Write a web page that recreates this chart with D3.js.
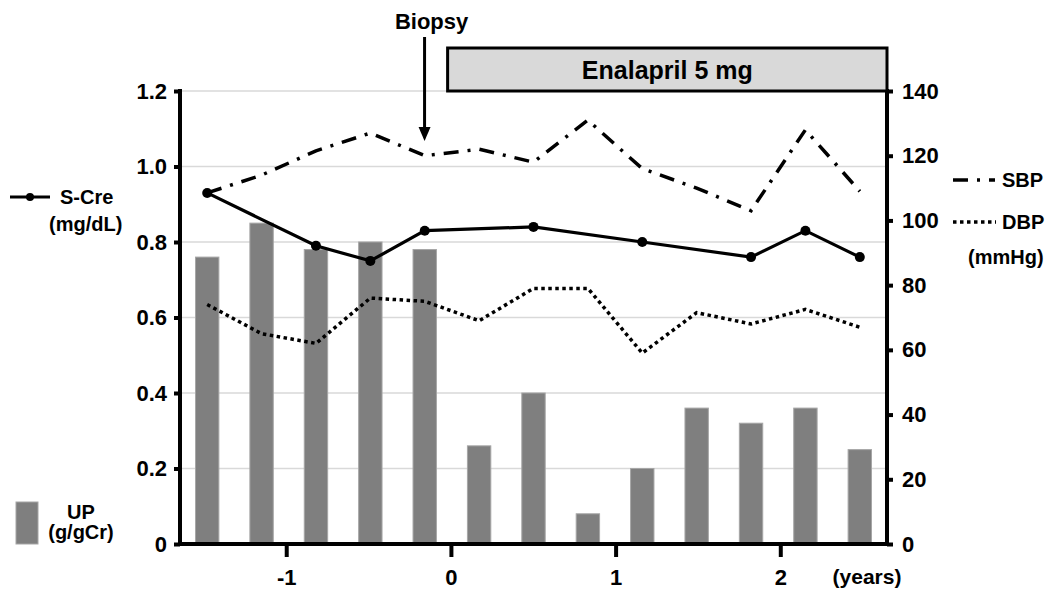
<!DOCTYPE html>
<html>
<head>
<meta charset="utf-8">
<script src="https://cdn.jsdelivr.net/npm/d3@7"></script>
<style>
  body { margin: 0; background: #fff; }
  svg text { font-family: Arial, "Liberation Sans", sans-serif; font-weight: bold; fill: #000; }
</style>
</head>
<body>
<div id="chart"></div>
<script>
// visits, roughly every 4 months
const visits = d3.range(13);
const upValues = [0.76, 0.85, 0.78, 0.80, 0.78, 0.26, 0.40, 0.08, 0.20, 0.36, 0.32, 0.36, 0.25];
const sCre = [0.93, null, 0.79, 0.75, 0.83, null, 0.84, null, 0.80, null, 0.76, 0.83, 0.76];
const sbp = [108.5, 114, 121.5, 127, 120, 122, 118, 131, 116, 110, 103, 128, 109];
const dbp = [74, 65, 62, 76, 75, 69, 79, 79, 59, 71.5, 68, 72.5, 67];
const leftTicks = [0, 0.2, 0.4, 0.6, 0.8, 1.0, 1.2];
const rightTicks = [0, 20, 40, 60, 80, 100, 120, 140];
const yearTicks = [-1, 0, 1, 2];
const yearDomain = [-1.645, 2.648];
const enalaprilStart = -0.02; // years

const W = 1051, H = 591;
const m = {left: 180, right: 164, top: 91, bottom: 47};
const iw = W - m.left - m.right, ih = H - m.top - m.bottom;

const svg = d3.select("#chart").append("svg")
    .attr("width", W).attr("height", H);

const x = d3.scaleBand().domain(visits).range([m.left, m.left + iw]).padding(0);
const xYear = d3.scaleLinear().domain(yearDomain).range([m.left, m.left + iw]);
const yL = d3.scaleLinear().domain([0, 1.2]).range([m.top + ih, m.top]);
const yR = d3.scaleLinear().domain([0, 140]).range([m.top + ih, m.top]);
const cx = i => x(i) + x.bandwidth() / 2;

// gridlines
svg.append("g").selectAll("line")
    .data(leftTicks.slice(1))
    .join("line")
    .attr("x1", m.left).attr("x2", m.left + iw)
    .attr("y1", d => yL(d)).attr("y2", d => yL(d))
    .attr("stroke", "#d9d9d9").attr("stroke-width", 1.5);

// bars
const bw = x.bandwidth() * 0.43;
svg.append("g").selectAll("rect")
    .data(visits)
    .join("rect")
    .attr("x", i => cx(i) - bw / 2)
    .attr("y", i => yL(upValues[i]))
    .attr("width", bw)
    .attr("height", i => yL(0) - yL(upValues[i]))
    .attr("fill", "#7f7f7f")
    .attr("stroke", "#a6a6a6").attr("stroke-width", 1);

// SBP / DBP
const lineR = d3.line().x(d => cx(d.i)).y(d => yR(d.v));
svg.append("path")
    .datum(visits.map(i => ({i, v: sbp[i]})))
    .attr("d", lineR)
    .attr("fill", "none").attr("stroke", "#000").attr("stroke-width", 3.5)
    .attr("stroke-dasharray", "15 9 3 9");
svg.append("path")
    .datum(visits.map(i => ({i, v: dbp[i]})))
    .attr("d", lineR)
    .attr("fill", "none").attr("stroke", "#000").attr("stroke-width", 3.5)
    .attr("stroke-dasharray", "3.5 3.5");

// S-Cre
const creData = visits.filter(i => sCre[i] != null).map(i => ({i, v: sCre[i]}));
svg.append("path")
    .datum(creData)
    .attr("d", d3.line().x(d => cx(d.i)).y(d => yL(d.v)))
    .attr("fill", "none").attr("stroke", "#000").attr("stroke-width", 3.2);
svg.append("g").selectAll("circle")
    .data(creData)
    .join("circle")
    .attr("cx", d => cx(d.i)).attr("cy", d => yL(d.v))
    .attr("r", 5).attr("fill", "#000");

// axes
const axL = svg.append("g").attr("transform", `translate(${m.left},0)`)
    .call(d3.axisLeft(yL).tickValues(leftTicks).tickSize(6).tickPadding(7)
        .tickFormat(d => d === 0 ? "0" : d.toFixed(1)));
const axR = svg.append("g").attr("transform", `translate(${m.left + iw},0)`)
    .call(d3.axisRight(yR).tickValues(rightTicks).tickSize(6).tickPadding(9));
const axB = svg.append("g").attr("transform", `translate(0,${m.top + ih})`)
    .call(d3.axisBottom(xYear).tickValues(yearTicks).tickSize(13).tickPadding(12)
        .tickFormat(d => String(d)));
[axL, axR, axB].forEach(a => {
  a.select(".domain").attr("stroke", "#000").attr("stroke-width", 4);
  a.selectAll(".tick line").attr("stroke", "#000").attr("stroke-width", 4);
  a.selectAll(".tick text").attr("font-size", 22).attr("font-family", null);
});
axL.select(".domain").attr("d", `M0,${m.top - 2}V${m.top + ih + 2}`);
axR.select(".domain").attr("d", `M0,${m.top - 2}V${m.top + ih + 2}`);
axB.select(".domain").attr("d", `M${m.left - 2},0H${m.left + iw + 2}`);
axB.selectAll(".tick text").attr("dy", "0.71em");

svg.append("text")
    .attr("x", 867).attr("y", yL(0) + 25).attr("dy", "0.71em")
    .attr("text-anchor", "middle").attr("font-size", 21)
    .text("(years)");

// Enalapril box
const boxX0 = xYear(enalaprilStart), boxX1 = m.left + iw;
svg.append("rect")
    .attr("x", boxX0).attr("y", 48)
    .attr("width", boxX1 - boxX0).attr("height", m.top - 48)
    .attr("fill", "#d9d9d9").attr("stroke", "#000").attr("stroke-width", 3);
svg.append("text")
    .attr("x", (boxX0 + boxX1) / 2).attr("y", 70).attr("dy", "0.35em")
    .attr("text-anchor", "middle").attr("font-size", 25)
    .text("Enalapril 5 mg");

// Biopsy arrow
const bxp = xYear(-0.16);
svg.append("text")
    .attr("x", bxp + 7).attr("y", 29)
    .attr("text-anchor", "middle").attr("font-size", 22)
    .text("Biopsy");
svg.append("line")
    .attr("x1", bxp).attr("x2", bxp).attr("y1", 37).attr("y2", 130)
    .attr("stroke", "#000").attr("stroke-width", 3);
svg.append("path")
    .attr("d", `M${bxp - 6},127L${bxp + 6},127L${bxp},141Z`)
    .attr("fill", "#000");

// legends
const lg = svg.append("g");
lg.append("line").attr("x1", 10).attr("x2", 50).attr("y1", 197).attr("y2", 197)
    .attr("stroke", "#000").attr("stroke-width", 3.2);
lg.append("circle").attr("cx", 30).attr("cy", 197).attr("r", 4).attr("fill", "#000");
lg.append("text").attr("x", 60).attr("y", 197).attr("dy", "0.35em").attr("font-size", 20).text("S-Cre");
lg.append("text").attr("x", 49).attr("y", 224).attr("dy", "0.35em").attr("font-size", 20).text("(mg/dL)");

lg.append("line").attr("x1", 953).attr("x2", 995).attr("y1", 180).attr("y2", 180)
    .attr("stroke", "#000").attr("stroke-width", 3.5).attr("stroke-dasharray", "15 9 3 9");
lg.append("text").attr("x", 1002).attr("y", 180).attr("dy", "0.35em").attr("font-size", 20).text("SBP");
lg.append("line").attr("x1", 953).attr("x2", 996).attr("y1", 222).attr("y2", 222)
    .attr("stroke", "#000").attr("stroke-width", 3.5).attr("stroke-dasharray", "3.5 3.5");
lg.append("text").attr("x", 1002).attr("y", 222).attr("dy", "0.35em").attr("font-size", 20).text("DBP");
lg.append("text").attr("x", 968).attr("y", 257).attr("dy", "0.35em").attr("font-size", 20).text("(mmHg)");

lg.append("rect").attr("x", 16).attr("y", 502).attr("width", 22).attr("height", 42)
    .attr("fill", "#7f7f7f").attr("stroke", "#a6a6a6").attr("stroke-width", 1);
lg.append("text").attr("x", 81).attr("y", 512).attr("dy", "0.35em")
    .attr("text-anchor", "middle").attr("font-size", 20).text("UP");
lg.append("text").attr("x", 81).attr("y", 532).attr("dy", "0.35em")
    .attr("text-anchor", "middle").attr("font-size", 20).text("(g/gCr)");
</script>
</body>
</html>
